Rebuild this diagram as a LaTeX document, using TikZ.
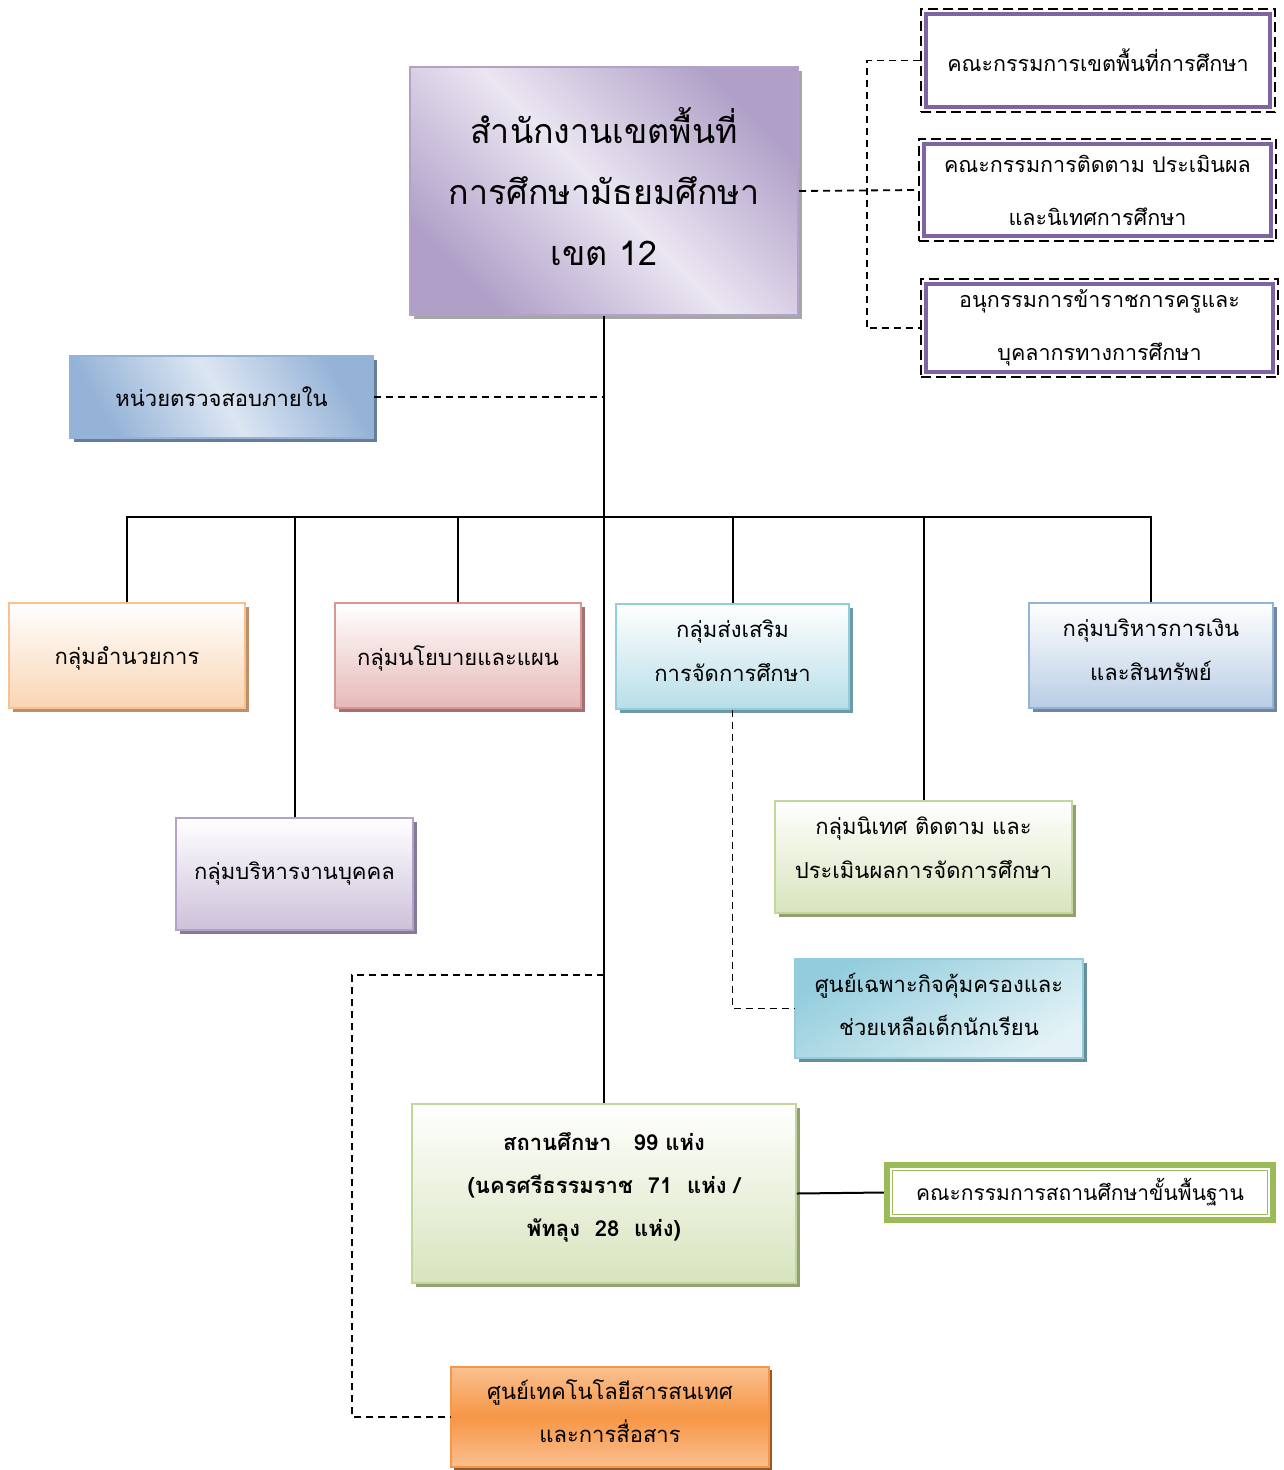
\documentclass[tikz,border=0pt]{standalone}
\usepackage{fontspec}
\setmainfont[Script=Thai]{Loma}
\usetikzlibrary{positioning,shadows,fit}
\definecolor{lilacedge}{HTML}{B3A2C7}
\definecolor{lilacdark}{HTML}{B0A0C8}
\definecolor{lilaclight}{HTML}{EBE6F2}
\definecolor{lilacfill}{HTML}{CCC1DA}
\definecolor{peachedge}{HTML}{FAC08F}
\definecolor{peachfill}{HTML}{F9D5B4}
\definecolor{roseedge}{HTML}{D99694}
\definecolor{rosefill}{HTML}{E6B9B8}
\definecolor{aquaedge}{HTML}{93CDDD}
\definecolor{aquafill}{HTML}{B7DEE8}
\definecolor{skyedge}{HTML}{95B3D7}
\definecolor{skyfill}{HTML}{B9CDE5}
\definecolor{skylight}{HTML}{DCE6F2}
\definecolor{limeedge}{HTML}{C3D69B}
\definecolor{limefill}{HTML}{D7E4BD}
\definecolor{ictedge}{HTML}{F79646}
\definecolor{ictlight}{HTML}{FAC090}
\definecolor{comviolet}{HTML}{8064A2}
\definecolor{boardgreen}{HTML}{9BBB59}
\begin{document}
\begin{tikzpicture}[x=1pt,y=-1pt,
  orgbox/.style={draw=#1edge,line width=1.5pt,top color=white,bottom color=#1fill,
    drop shadow={shadow xshift=4pt,shadow yshift=-4pt,fill=#1edge!75!black,opacity=1},
    align=center,inner sep=0pt,font=\fontsize{22}{44}\selectfont},
  combox/.style={draw=comviolet,line width=4.5pt,fill=white,align=center,inner sep=0pt,
    font=\fontsize{21.5}{53}\selectfont},
  comframe/.style={draw,line width=1.7pt,dash pattern=on 10pt off 5pt,inner sep=3pt},
  dashlink/.style={line width=1.8pt,dash pattern=on 7pt off 5pt},
  solidlink/.style={line width=2pt}]
\useasboundingbox (0,0) rectangle (1284,1470);

\node[draw=lilacedge,line width=2pt,left color=lilacdark,right color=lilacdark,middle color=lilaclight,
  shading angle=135,drop shadow={shadow xshift=4pt,shadow yshift=-4pt,fill=gray!70,opacity=1},
  minimum width=388pt,minimum height=248pt,align=center,inner sep=0pt,text depth=10pt,
  font=\fontsize{34}{61}\selectfont] (main) at (604,191)
  {สำนักงานเขตพื้นที่\\การศึกษามัธยมศึกษา\\เขต 12};

\node[combox,minimum width=344pt,minimum height=93pt] (comarea) at (1098,60.5) {คณะกรรมการเขตพื้นที่การศึกษา};
\node[comframe,fit=(comarea)] (comareaframe) {};
\node[combox,minimum width=347pt,minimum height=92pt] (comeval) at (1097.5,190) {คณะกรรมการติดตาม ประเมินผล\\และนิเทศการศึกษา};
\node[comframe,fit=(comeval)] (comevalframe) {};
\node[combox,minimum width=347pt,minimum height=88pt] (comstaff) at (1099.5,328) {อนุกรรมการข้าราชการครูและ\\บุคลากรทางการศึกษา};
\node[comframe,fit=(comstaff)] (comstaffframe) {};

\node[draw=skyedge,line width=1.5pt,left color=skyedge,right color=skyedge,middle color=skylight,
  shading angle=120,drop shadow={shadow xshift=4pt,shadow yshift=-4pt,fill=skyedge!70!black,opacity=1},
  minimum width=303pt,minimum height=82pt,align=center,inner sep=0pt,
  font=\fontsize{22}{44}\selectfont] (audit) at (221.5,397) {หน่วยตรวจสอบภายใน};

\node[orgbox=peach,minimum width=236pt,minimum height=105pt,text depth=0pt] (admin) at (127,655.5) {กลุ่มอำนวยการ};
\node[orgbox=rose,minimum width=246pt,minimum height=105pt,text depth=0pt] (policy) at (458,655.5) {กลุ่มนโยบายและแผน};
\node[orgbox=aqua,minimum width=233pt,minimum height=105pt,text depth=12pt] (promo) at (732.5,656.5) {กลุ่มส่งเสริม\\การจัดการศึกษา};
\node[orgbox=sky,minimum width=244pt,minimum height=105pt,text depth=12pt] (finance) at (1151,655.5) {กลุ่มบริหารการเงิน\\และสินทรัพย์};
\node[orgbox=lilac,minimum width=237pt,minimum height=112pt] (personnel) at (294.5,874) {กลุ่มบริหารงานบุคคล};
\node[orgbox=lime,minimum width=297pt,minimum height=112pt,text depth=18pt] (supervise) at (923.5,857) {กลุ่มนิเทศ ติดตาม และ\\ประเมินผลการจัดการศึกษา};
\node[draw=aquaedge,line width=1.5pt,left color=aquaedge,right color=aquafill!40,
  shading angle=30,drop shadow={shadow xshift=4pt,shadow yshift=-4pt,fill=aquaedge!70!black,opacity=1},
  minimum width=288pt,minimum height=99pt,align=center,inner sep=0pt,text depth=8pt,
  font=\fontsize{22}{43}\selectfont] (childcare) at (939,1008.5) {ศูนย์เฉพาะกิจคุ้มครองและ\\ช่วยเหลือเด็กนักเรียน};
\node[orgbox=lime,minimum width=384pt,minimum height=179pt,text depth=18pt,font=\bfseries\fontsize{22}{43}\selectfont] (school) at (604,1193.5)
  {สถานศึกษา~~~99 แห่ง\\(นครศรีธรรมราช~~71~~แห่ง /\\พัทลุง~~28~~แห่ง)};
\node[draw=boardgreen,line width=1.5pt,fill=white,minimum width=375pt,minimum height=44pt,inner sep=0pt,
  font=\fontsize{21}{40}\selectfont] (board) at (1080,1192.5) {คณะกรรมการสถานศึกษาขั้นพื้นฐาน};
\node[draw=boardgreen,line width=6pt,inner sep=5pt,fit=(board)] (boardframe) {};
\node[draw=ictedge,line width=1.5pt,top color=ictlight,bottom color=ictlight,middle color=ictedge,
  drop shadow={shadow xshift=3pt,shadow yshift=-3pt,fill=ictedge!60!black,opacity=1},
  minimum width=318pt,minimum height=100pt,align=center,inner sep=0pt,text depth=12pt,
  font=\fontsize{22}{43}\selectfont] (ict) at (610,1417) {ศูนย์เทคโนโลยีสารสนเทศ\\และการสื่อสาร};

\coordinate (bus) at (604,517);
\coordinate (ictturn) at (352,975);

\draw[solidlink] (main.south) -- (school.north);
\draw[solidlink] (admin.north) -- (admin.north |- bus) -- (finance.north |- bus) -- (finance.north);
\draw[solidlink] (policy.north) -- (policy.north |- bus);
\draw[solidlink] (promo.north) -- (promo.north |- bus);
\draw[solidlink] (personnel.north) -- (personnel.north |- bus);
\draw[solidlink] (supervise.north) -- (supervise.north |- bus);
\draw[solidlink] (school.east) -- (boardframe.west);

\draw[dashlink] (main.east) -- (comevalframe.west);
\draw[dashlink] (comareaframe.west) -- ++(-53,0) |- (comstaffframe.west);
\draw[dashlink] (audit.east) -- (audit.east -| main.south);
\draw[dashlink] (promo.south) |- (childcare.west);
\draw[dashlink] (ictturn -| main.south) -- (ictturn) |- (ict.west);
\end{tikzpicture}
\end{document}
